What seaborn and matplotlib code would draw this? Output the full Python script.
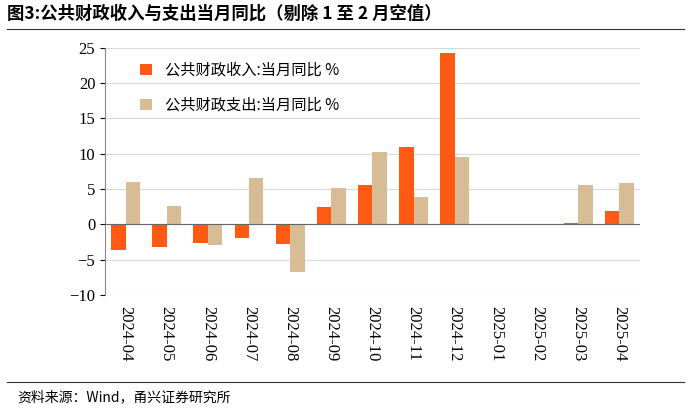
import matplotlib
matplotlib.use("Agg")
import matplotlib.pyplot as plt
import seaborn as sns
import pandas as pd

months = ["2024-04","2024-05","2024-06","2024-07","2024-08","2024-09","2024-10","2024-11","2024-12","2025-01","2025-02","2025-03","2025-04"]
revenue = [-3.7,-3.2,-2.6,-1.9,-2.8,2.4,5.5,11.0,24.2,0,0,0.2,1.9]
expend = [6.0,2.6,-3.0,6.6,-6.7,5.1,10.3,3.8,9.5,0,0,5.6,5.8]
s1 = "公共财政收入:当月同比 %"
s2 = "公共财政支出:当月同比 %"

plt.rcParams["font.family"] = ["Liberation Serif", "Noto Sans CJK SC"]
df = pd.DataFrame({"m": months*2, "v": revenue+expend, "s": [s1]*13+[s2]*13})
fig = plt.figure(figsize=(6.91,4.09), dpi=100)
ax = fig.add_axes([0.152,0.279,0.774,0.604])
sns.barplot(data=df, x="m", y="v", hue="s", palette=["#FF5A14","#D8BC96"], saturation=1, width=0.7, ax=ax, zorder=3)
ax.set_ylim(-10,25)
ax.set_yticks(range(-10,30,5))
ax.yaxis.grid(True, color="#d9d9d9", lw=0.8, zorder=0)
ax.set_xlabel(""); ax.set_ylabel("")
for sp in ["top","right"]: ax.spines[sp].set_visible(False)
ax.spines["left"].set_color("#888"); ax.spines["bottom"].set_visible(False)
ax.axhline(0, color="#666", lw=0.8, zorder=4)
ax.tick_params(axis="x", rotation=-90, labelsize=12, length=0, pad=8)
ax.tick_params(axis="y", labelsize=12)
ax.legend(frameon=False, loc="upper left", bbox_to_anchor=(0.04,1.0), fontsize=11, labelspacing=1.2, handlelength=0.8,
          prop={"family": "Noto Sans CJK SC", "size": 11})
fig.text(0.01,0.955,"图3:公共财政收入与支出当月同比（剔除 1 至 2 月空值）", fontsize=12.5, fontweight="bold", family="Noto Sans CJK SC")
fig.add_artist(plt.Line2D([0.01,0.99],[0.93,0.93], color="#333", lw=0.8))
fig.add_artist(plt.Line2D([0.01,0.99],[0.065,0.065], color="#333", lw=0.8))
fig.text(0.025,0.02,"资料来源：Wind，甬兴证券研究所", fontsize=10, style="italic", family="Noto Sans CJK SC")
fig.savefig("out.png", dpi=100)
